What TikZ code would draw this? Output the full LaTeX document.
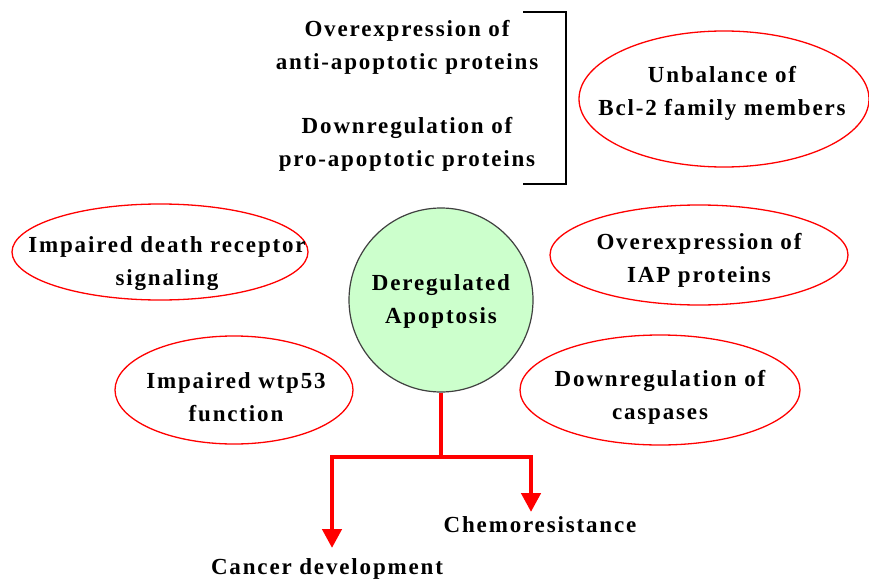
\documentclass[tikz,border=0pt]{standalone}
\usepackage{fontspec}
\setmainfont{Liberation Serif}
\usetikzlibrary{shapes.geometric,arrows.meta}
\begin{document}
\begin{tikzpicture}[x=1pt,y=-1pt,
  txt/.style={font=\fontsize{23}{33}\selectfont\bfseries\addfontfeatures{LetterSpace=8}, align=center, inner sep=0pt},
  oval/.style={ellipse, draw=red, line width=1.3pt, inner sep=0pt},
  redline/.style={draw=red, line width=4.5pt},
  redarrow/.style={redline, -{Triangle[width=19pt,length=19pt]}}
]
\fill[white] (0,0) rectangle (869,583);
\useasboundingbox (0,0) rectangle (869,583);

% bracket block
\node[txt] (t1) at (407,47) {Overexpression of\\anti-apoptotic proteins};
\node[txt] (t2) at (407,144) {Downregulation of\\pro-apoptotic proteins};
\coordinate (b1) at (523,12);
\coordinate (b2) at (566,12);
\coordinate (b3) at (566,184);
\coordinate (b4) at (523,184);
\draw[line width=1.6pt] (b1) -- (b2) -- (b3) -- (b4);

% ovals
\node[oval, minimum width=290pt, minimum height=136pt] (e1) at (724,99) {};
\node[txt] (l1) at (722,93) {Unbalance of\\Bcl-2 family members};

\node[oval, minimum width=296pt, minimum height=96pt] (e2) at (160,252) {};
\node[txt] (l2) at (167,264) {Impaired death receptor\\signaling};

\node[oval, minimum width=298pt, minimum height=100pt] (e3) at (699,255) {};
\node[txt] (l3) at (699,260) {Overexpression of\\IAP proteins};

\node[oval, minimum width=238pt, minimum height=108pt] (e4) at (234,390) {};
\node[txt] (l4) at (236,397) {Impaired wtp53\\function};

\node[oval, minimum width=280pt, minimum height=110pt] (e5) at (660,390) {};
\node[txt] (l5) at (660,397) {Downregulation of\\caspases};

% centre circle
\node[circle, draw=black!75, line width=1.2pt, fill={rgb,255:red,204;green,255;blue,204}, minimum size=184pt, inner sep=0pt] (c) at (441,300) {};
\node[txt] (lc) at (441,301) {Deregulated\\Apoptosis};

% outcomes
\node[txt] (o1) at (327,569) {Cancer development};
\node[txt] (o2) at (540,525) {Chemoresistance};

\coordinate (j) at (441,457);
\coordinate (jl) at (332,457);
\coordinate (jr) at (531,457);
\coordinate (tl) at (332,548);
\coordinate (tr) at (531,512);
\draw[redline] (c.south) -- (j);
\draw[redline, line cap=rect] (jl) -- (jr);
\draw[redarrow] (jl) -- (tl);
\draw[redarrow] (jr) -- (tr);
\end{tikzpicture}
\end{document}
